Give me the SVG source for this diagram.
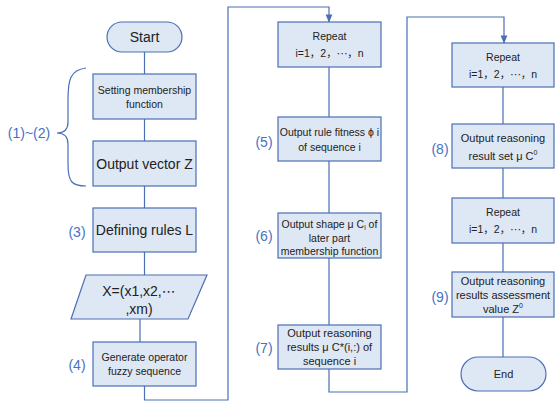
<svg xmlns="http://www.w3.org/2000/svg" width="555" height="403" viewBox="0 0 555 403">
<defs>
<style>
.box{fill:#dee7f4;stroke:#4a6fb5;stroke-width:1.2}
.t{font-family:"Liberation Sans","Noto Sans CJK SC",Arial,sans-serif;fill:#222;text-anchor:middle}
.d{font-family:"DejaVu Sans",sans-serif}
.s{font-size:10.5px}
.m{font-size:11px}
.b{font-size:14px}
.lb{font-family:"Liberation Sans",Arial,sans-serif;fill:#4472c4;font-size:14px;text-anchor:middle}
.c{fill:none;stroke:#4a6fb5;stroke-width:1.2}
</style>
<marker id="arr" viewBox="0 0 10 10" refX="9" refY="5" markerWidth="7" markerHeight="7" orient="auto">
<path d="M0,1 L10,5 L0,9 Z" fill="#4a6fb5"/>
</marker>
</defs>
<rect width="555" height="403" fill="#fff"/>
<g id="connectors">
<path class="c" d="M144.5,52 V74 M144.5,119 V141 M144.5,186 V208 M144.5,252 V275 M140,319 V342"/>
<path class="c" d="M144.5,386 V400 H228 V7 H329 V22" marker-end="url(#arr)"/>
<path class="c" d="M329,67 V117 M329,161 V213 M329,258 V325"/>
<path class="c" d="M329,369 V392 H407 V17 H504 V43" marker-end="url(#arr)"/>
<path class="c" d="M503,87 V124 M503,168 V198 M503,243 V272 M503,317 V357"/>
<path class="c" d="M86,68 C70,70 68,80 68,100 L68,122 C68,130 64,133 57,133 C64,133 68,136 68,144 L68,164 C68,182 72,186 86,186"/>
</g>
<g id="start">
<rect class="box" x="107" y="22" width="75" height="30" rx="15"/>
<text class="t b" x="144.5" y="42">Start</text>
</g>
<g id="n1">
<rect class="box" x="93" y="74" width="103" height="45"/>
<text class="t s" x="144.5" y="94">Setting membership</text>
<text class="t s" x="144.5" y="108">function</text>
</g>
<g id="n2">
<rect class="box" x="93" y="141" width="103" height="45"/>
<text class="t b" x="144.5" y="169">Output vector Z</text>
</g>
<g id="lab12"><text class="lb" x="29" y="138">(1)~(2)</text></g>
<g id="n3">
<rect class="box" x="93" y="208" width="103" height="44"/>
<text class="t b" x="144.5" y="235">Defining rules L</text>
<text class="lb" x="77" y="237">(3)</text>
</g>
<g id="nx">
<polygon class="box" points="86,275 207,275 188,319 71,319"/>
<text class="t b" x="139" y="296">X=(x1,x2,<tspan class="d">⋯</tspan></text>
<text class="t b" x="139" y="314">,xm)</text>
</g>
<g id="n4">
<rect class="box" x="93" y="342" width="103" height="44"/>
<text class="t s" x="144.5" y="361">Generate operator</text>
<text class="t s" x="144.5" y="375">fuzzy sequence</text>
<text class="lb" x="77" y="370">(4)</text>
</g>
<g id="r1">
<rect class="box" x="278" y="22" width="103" height="45"/>
<text class="t s" x="329.5" y="40">Repeat</text>
<text class="t s" x="329.5" y="57">i=1，2，<tspan class="d">⋯</tspan>，n</text>
</g>
<g id="n5">
<rect class="box" x="278" y="117" width="103" height="44"/>
<text class="t s" x="329.5" y="136">Output rule fitness ϕ i</text>
<text class="t s" x="329.5" y="151">of sequence i</text>
<text class="lb" x="264" y="147">(5)</text>
</g>
<g id="n6">
<rect class="box" x="278" y="213" width="103" height="45"/>
<text class="t s" x="329.5" y="228">Output shape μ C<tspan font-size="7" dy="2">i</tspan><tspan dy="-2"> of</tspan></text>
<text class="t s" x="329.5" y="242">later part</text>
<text class="t s" x="329.5" y="255">membership function</text>
<text class="lb" x="264" y="241">(6)</text>
</g>
<g id="n7">
<rect class="box" x="278" y="325" width="103" height="44"/>
<text class="t m" x="329.5" y="337">Output reasoning</text>
<text class="t m" x="329.5" y="351">results μ C*(i,:) of</text>
<text class="t m" x="329.5" y="365">sequence i</text>
<text class="lb" x="264" y="353">(7)</text>
</g>
<g id="r2">
<rect class="box" x="452" y="43" width="102" height="44"/>
<text class="t s" x="503" y="61">Repeat</text>
<text class="t s" x="503" y="78">i=1，2，<tspan class="d">⋯</tspan>，n</text>
</g>
<g id="n8">
<rect class="box" x="452" y="124" width="102" height="44"/>
<text class="t m" x="503" y="142">Output reasoning</text>
<text class="t m" x="503" y="160">result set μ C<tspan font-size="7" dy="-5">0</tspan></text>
<text class="lb" x="440" y="154">(8)</text>
</g>
<g id="r3">
<rect class="box" x="452" y="198" width="102" height="45"/>
<text class="t s" x="503" y="216">Repeat</text>
<text class="t s" x="503" y="233">i=1，2，<tspan class="d">⋯</tspan>，n</text>
</g>
<g id="n9">
<rect class="box" x="452" y="272" width="102" height="45"/>
<text class="t m" x="503" y="285">Output reasoning</text>
<text class="t m" x="503" y="299">results assessment</text>
<text class="t m" x="503" y="313">value Z<tspan font-size="7" dy="-5">0</tspan></text>
<text class="lb" x="440" y="302">(9)</text>
</g>
<g id="end">
<rect class="box" x="461" y="357" width="85" height="34" rx="17"/>
<text class="t m" x="503.5" y="378">End</text>
</g>
</svg>
